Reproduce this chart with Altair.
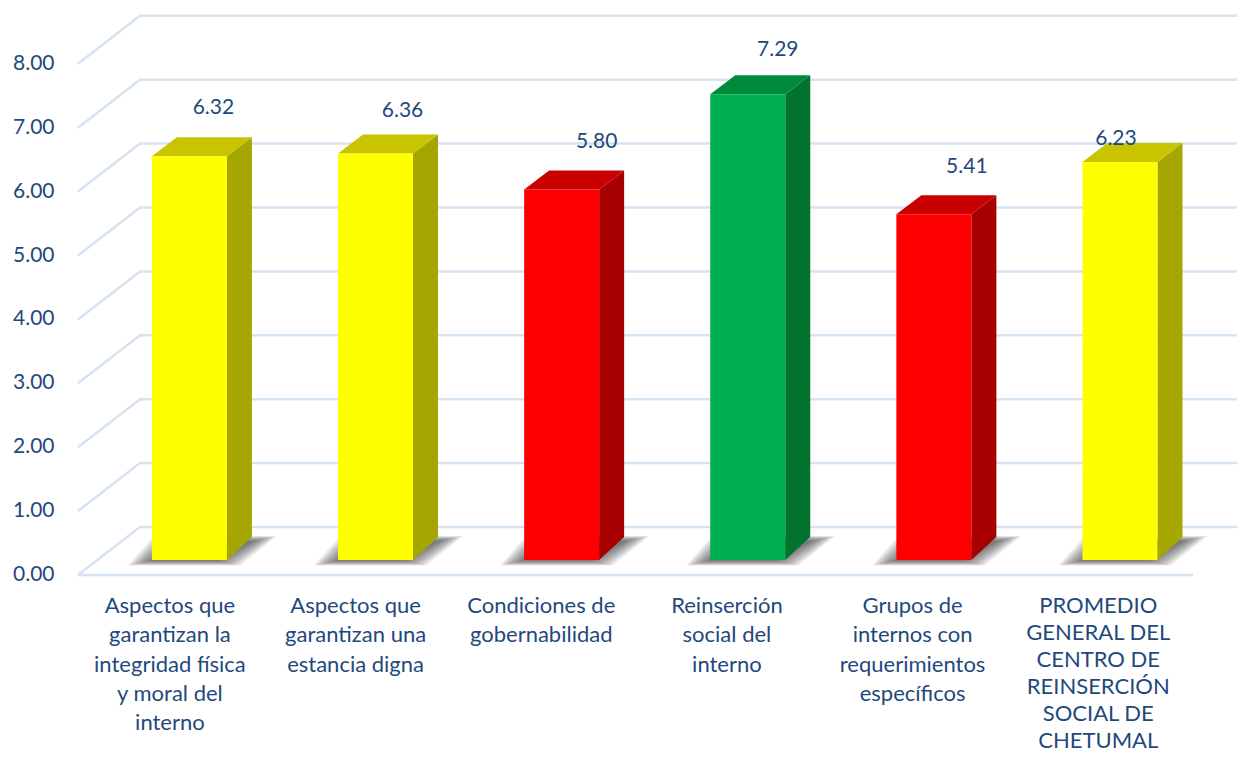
import altair as alt
import pandas as pd

categories = [
    "Aspectos que\ngarantizan la\nintegridad física\ny moral del\ninterno",
    "Aspectos que\ngarantizan una\nestancia digna",
    "Condiciones de\ngobernabilidad",
    "Reinserción\nsocial del\ninterno",
    "Grupos de\ninternos con\nrequerimientos\nespecíficos",
    "PROMEDIO\nGENERAL DEL\nCENTRO DE\nREINSERCIÓN\nSOCIAL DE\nCHETUMAL",
]
values = [6.32, 6.36, 5.80, 7.29, 5.41, 6.23]
front_colors = ["#FFFF00", "#FFFF00", "#FF0000", "#00B050", "#FF0000", "#FFFF00"]
side_colors = ["#A6A600", "#A6A600", "#A60000", "#00732F", "#A60000", "#A6A600"]
top_colors = ["#C8C400", "#C8C400", "#C80000", "#008A3C", "#C80000", "#C8C400"]
label_dx = [24, 27, 35, 30, 33, -4]
label_dy = [-48, -43, -47, -44.5, -47, -23]
y_ticks = [0, 1, 2, 3, 4, 5, 6, 7, 8]

TEXT = "#1F497D"
GRID = "#D6E3F3"
FONT = "Lato"

# projection constants
SLOT = 185.67      # px per category slot
UNIT = 63.9        # px per value unit
LEFT = 78
ORIGIN = 575
PAD_TOP = 2
W = 1159
H = 743


def ux(px):
    return px / SLOT


def uy(px):
    return px / UNIT


BAR_W = ux(75)
DEPTH_X = ux(25)
BACK_TOP = uy(19)
BACK_BASE = uy(23)
BASE = uy(15)
WALL_X = ux(62)
WALL_Y = uy(48)
x_dom = [0, W / SLOT]
y_dom = [(ORIGIN - (H + 10)) / UNIT, (ORIGIN - 10) / UNIT]

xs = alt.Scale(domain=x_dom, nice=False, zero=False)
ys = alt.Scale(domain=y_dom, nice=False, zero=False)

front, side, top, shadow, grid, texts, nums = [], [], [], [], [], [], []
for i, v in enumerate(values):
    xl = 0.6 + 1.0024 * i - BAR_W / 2
    xr = xl + BAR_W
    t = BASE + v
    front.append(dict(a=xl, b=xr, c=BASE, d=t, color=front_colors[i]))
    side.append(dict(k=i, x=xr, y=t, y0=BASE, color=side_colors[i]))
    side.append(dict(k=i, x=xr + DEPTH_X, y=t + BACK_TOP, y0=BASE + BACK_BASE, color=side_colors[i]))
    top.append(dict(k=i, y=t, x=xl, x0=xr, color=top_colors[i]))
    top.append(dict(k=i, y=t + BACK_TOP, x=xl + DEPTH_X, x0=xr + DEPTH_X, color=top_colors[i]))
    texts.append(dict(x=i + 0.495, y=uy(-21), text=categories[i], last=i == 5))
    nums.append(dict(x=xl + BAR_W / 2 + ux(label_dx[i]), y=t - uy(label_dy[i]), text=f"{v:.2f}"))
    # soft floor shadow built from nested parallelograms
    for lev in range(11):
        ins = lev * 2.3
        sy_low = BASE - uy(5.5 - lev * 0.5)
        sy_high = BASE + uy(24 - lev * 0.5)
        shadow.append(dict(k=f"{i}-{lev}", y=sy_low, x=xl - ux(24 - ins), x0=xr + ux(13 - ins)))
        shadow.append(dict(k=f"{i}-{lev}", y=sy_high, x=xl + ux(2 + ins), x0=xr + ux(50 - ins)))

for v in y_ticks:
    grid.append(dict(k=v, o=0, x=0, y=v))
    grid.append(dict(k=v, o=1, x=WALL_X, y=v + WALL_Y))
    grid.append(dict(k=v, o=2, x=x_dom[1], y=v + WALL_Y))
grid.append(dict(k=100, o=0, x=0, y=0))
grid.append(dict(k=100, o=1, x=ux(1193 - LEFT), y=0))

grid_layer = alt.Chart(pd.DataFrame(grid)).mark_line(color=GRID, strokeWidth=2.5).encode(
    x=alt.X("x:Q", scale=xs, axis=None),
    y=alt.Y(
        "y:Q",
        scale=ys,
        title=None,
        axis=alt.Axis(
            values=y_ticks,
            format=".2f",
            grid=False,
            domain=False,
            ticks=False,
            labelFont=FONT,
            labelFontSize=21,
            labelColor=TEXT,
            labelPadding=24,
            labelOffset=-0.5,
        ),
    ),
    detail="k:N",
    order="o:Q",
)

shadow_layer = alt.Chart(pd.DataFrame(shadow)).mark_area(
    orient="horizontal", color="#404040", opacity=0.1
).encode(
    y=alt.Y("y:Q", scale=ys),
    x=alt.X("x:Q", scale=xs),
    x2=alt.X2("x0"),
    detail="k:N",
)

side_layer = alt.Chart(pd.DataFrame(side)).mark_area(opacity=1).encode(
    x=alt.X("x:Q", scale=xs),
    y=alt.Y("y:Q", scale=ys),
    y2=alt.Y2("y0"),
    color=alt.Color("color:N", scale=None),
    detail="k:N",
)

top_layer = alt.Chart(pd.DataFrame(top)).mark_area(orient="horizontal", opacity=1).encode(
    y=alt.Y("y:Q", scale=ys),
    x=alt.X("x:Q", scale=xs),
    x2=alt.X2("x0"),
    color=alt.Color("color:N", scale=None),
    detail="k:N",
)

front_layer = alt.Chart(pd.DataFrame(front)).mark_bar().encode(
    x=alt.X("a:Q", scale=xs),
    x2=alt.X2("b"),
    y=alt.Y("c:Q", scale=ys),
    y2=alt.Y2("d"),
    color=alt.Color("color:N", scale=None),
)

num_layer = alt.Chart(pd.DataFrame(nums)).mark_text(
    font=FONT, fontSize=21, color=TEXT, baseline="middle", align="center"
).encode(
    x=alt.X("x:Q", scale=xs),
    y=alt.Y("y:Q", scale=ys),
    text="text:N",
)

texts_df = pd.DataFrame(texts)


def cat_text(df, lh):
    return alt.Chart(df).mark_text(
        font=FONT, fontSize=22, color=TEXT, baseline="top", align="center",
        lineBreak="\n", lineHeight=lh,
    ).encode(
        x=alt.X("x:Q", scale=xs),
        y=alt.Y("y:Q", scale=ys),
        text="text:N",
    )


chart = (
    alt.layer(
        grid_layer, shadow_layer, side_layer, top_layer, front_layer, num_layer,
        cat_text(texts_df[~texts_df["last"]], 29.3),
        cat_text(texts_df[texts_df["last"]], 27),
    )
    .properties(
        width=W,
        height=H,
        autosize=alt.AutoSizeParams(type="none"),
        padding={"left": LEFT - 8, "top": PAD_TOP, "right": 0, "bottom": 0},
        background="#FFFFFF",
    )
    .configure_view(stroke=None)
)

chart.save("out.html", embed_options={"renderer": "svg", "actions": False})
